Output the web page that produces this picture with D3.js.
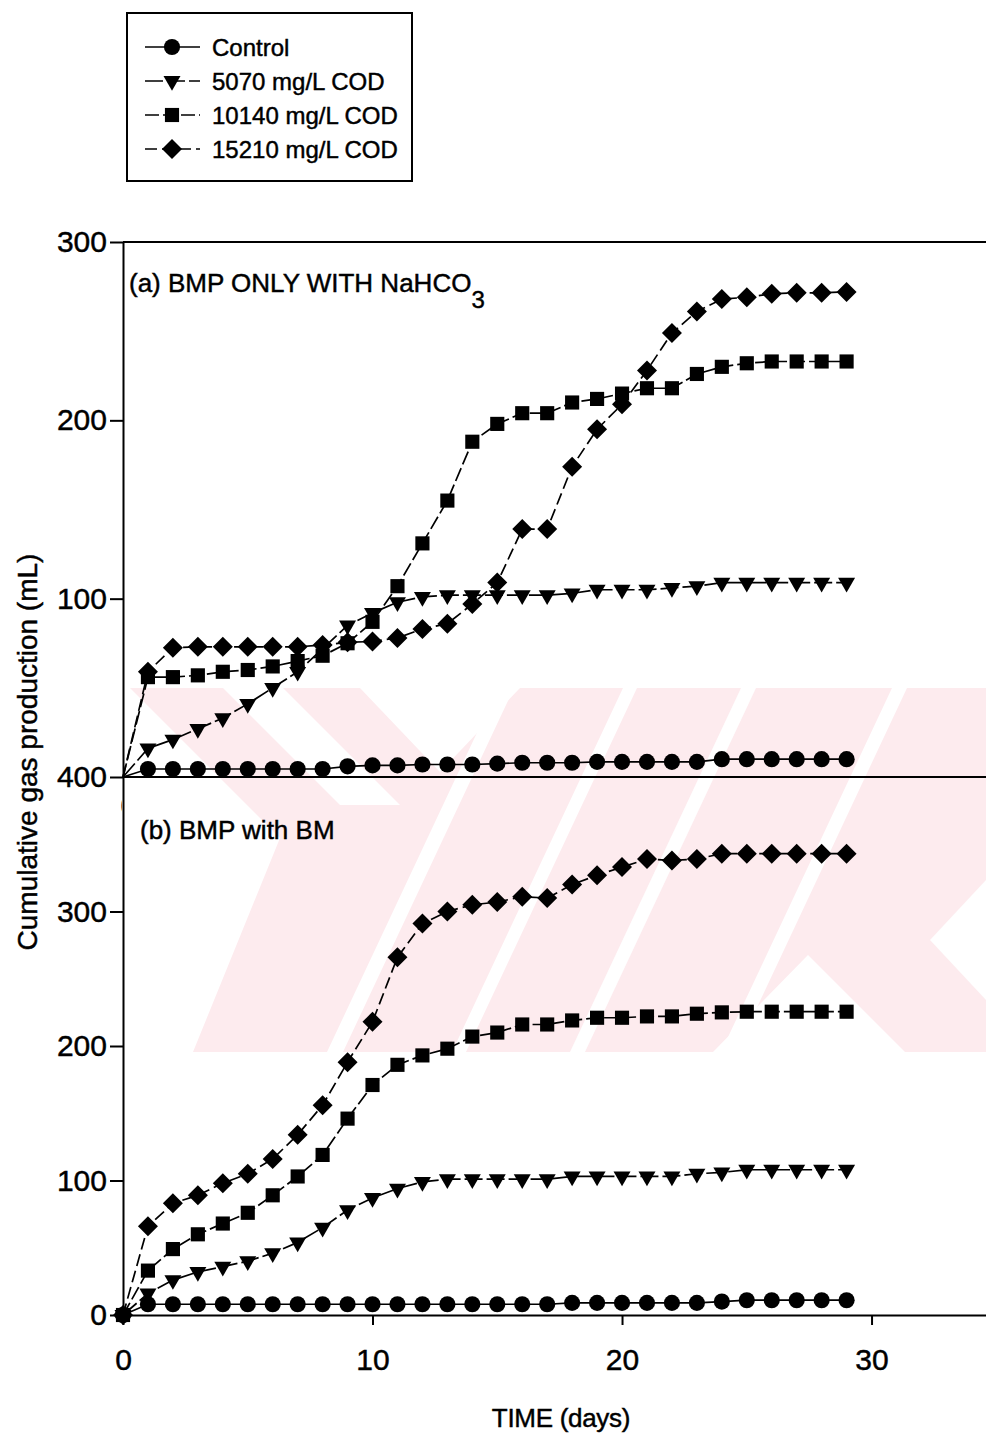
<!DOCTYPE html>
<html>
<head>
<meta charset="utf-8">
<script src="https://cdn.jsdelivr.net/npm/d3@7"></script>
<style>
  html, body { margin: 0; padding: 0; background: #fff; }
  svg { display: block; font-family: "Liberation Sans", Arial, sans-serif; }
  text { stroke: #000; stroke-width: 0.45px; fill: #000; }
</style>
</head>
<body>
<svg id="chart" width="986" height="1435"></svg>
<script>
// Sampling days
const days = [0,1,2,3,4,5,6,7,8,9,10,11,12,13,14,15,16,17,18,19,20,21,22,23,24,25,26,27,28,29];

// Series names (legend order)
const seriesNames = ["Control", "5070 mg/L COD", "10140 mg/L COD", "15210 mg/L COD"];

// (a) BMP only with NaHCO3 — cumulative gas (mL)
const controlA = [0,4.5,4.5,4.5,4.5,4.5,4.5,4.5,4.5,6,6.5,6.5,7,7,7,7.5,8,8,8,8.5,8.5,8.5,8.5,8.5,10,10,10,10,10,10];
const cod5070A = [0,16,21,27,33,41,50,59,72,85,92,98,101,102,102,102,102,102,103,105,105,105,106,107,109,109,109,109,109,109];
const cod10140A = [0,56,56,57,59,60,62,65,68,75,87,107,131,155,188,198,204,204,210,212,215,218,218,226,230,232,233,233,233,233];
const cod15210A = [0,59,72.5,73,73,73,73,73,74,75.5,76,78,83,86,97,109,139,139,174,195,209,228,249,261,268,269,271,271.5,271.5,272];

// (b) BMP with BM — cumulative gas (mL)
const controlB = [0,8,8,8,8,8,8,8,8,8,8,8,8,8,8,8,8,8,9,9,9,9,9,9,10,11,11,11,11,11];
const cod5070B = [0,16,26,32,36,40,46,54,65,78,87,94,99,101,101,101,101,101,103,103,103,103,103,105,106,108,108,108,108,108];
const cod10140B = [0,33,49,60,68,76,89,103,119,146,171,186,193,198,207,210,216,216,219,221,221,222,222,224,225,225.5,225.5,225.5,225.5,225.5];
const cod15210B = [0,66,83,89,98,105,116,134,156,188,218,266,291,300,305,307,311,310,320,327,333,339,338,339,343,343,343,343,343,343];

// Axis ticks
const xTicks = [0, 10, 20, 30];
const yTicksA = [100, 200, 300];
const yTicksB = [0, 100, 200, 300, 400];

const svg = d3.select("#chart");
const W = 986;

// Scales
const x = d3.scaleLinear().domain([0, 35]).range([123, 996.3]);
const yA = d3.scaleLinear().domain([0, 300]).range([777, 242]);
const yB = d3.scaleLinear().domain([0, 400]).range([1315, 777]);

// Faint pink watermark in the background: a pale field cut by white notches and stripes
svg.append("clipPath").attr("id", "wmclip")
  .append("rect").attr("x", 120).attr("y", 688).attr("width", 866).attr("height", 364);
const wmg = svg.append("g").attr("clip-path", "url(#wmclip)");
const pinkField = [[130,688],[986,688],[986,1052],[193,1052],[280,838]];
wmg.append("polygon").attr("fill", "#fdebee")
  .attr("points", pinkField.map(p => p.join(",")).join(" "));
const cuts = [
  [[360,688],[520,688],[440,772]],                 // upper notch
  [[713,1052],[808,955],[905,1052]],               // lower notch
  [[986,880],[986,1000],[930,940]],                // right notch
  [[223,688],[283,688],[400,805],[340,805]],       // diagonal gap
  [[327,1052],[343,1052],[514,688],[498,688]],     // slanted stripes
  [[452,1052],[466,1052],[637,688],[623,688]],
  [[570,1052],[585,1052],[756,688],[741,688]],
  [[721,1052],[736,1052],[907,688],[892,688]]
];
wmg.selectAll("polygon.cut").data(cuts).join("polygon")
  .attr("class", "cut").attr("fill", "#fff")
  .attr("points", d => d.map(p => p.join(",")).join(" "));

// Series style definitions
const styles = [
  { dash: null,    sym: d3.symbolCircle,   size: 205, rot: 0 },
  { dash: "18,4",  sym: d3.symbolTriangle, size: 125, rot: 180 },
  { dash: "14,4",  sym: d3.symbolSquare,   size: 200, rot: 0 },
  { dash: "12,5",  sym: d3.symbolSquare,   size: 200, rot: 45 }
];

function drawPanel(yScale, series, markFrom) {
  const g = svg.append("g");
  series.forEach((vals, i) => {
    const pts = days.map((d, j) => ({ d, v: vals[j] }));
    const line = d3.line().x(p => x(p.d)).y(p => yScale(p.v));
    g.append("path")
      .attr("d", line(pts))
      .attr("fill", "none")
      .attr("stroke", "#000")
      .attr("stroke-width", 1.7)
      .attr("stroke-dasharray", styles[i].dash);
  });
  series.forEach((vals, i) => {
    const pts = days.map((d, j) => ({ d, v: vals[j] })).filter(p => p.d >= markFrom);
    const sym = d3.symbol().type(styles[i].sym).size(styles[i].size);
    g.selectAll(null).data(pts).join("path")
      .attr("d", sym)
      .attr("transform", p => `translate(${x(p.d)},${yScale(p.v)}) rotate(${styles[i].rot})`)
      .attr("fill", "#000");
  });
}

drawPanel(yA, [controlA, cod5070A, cod10140A, cod15210A], 1);
drawPanel(yB, [controlB, cod5070B, cod10140B, cod15210B], 0);

// Frame lines
svg.append("line").attr("x1", 123).attr("x2", W).attr("y1", 242).attr("y2", 242)
  .attr("stroke", "#000").attr("stroke-width", 2);
svg.append("line").attr("x1", 123).attr("x2", W).attr("y1", 777).attr("y2", 777)
  .attr("stroke", "#000").attr("stroke-width", 2);

// Partly hidden day-0 label of panel (a)
svg.append("clipPath").attr("id", "zclip")
  .append("rect").attr("x", 100).attr("y", 790).attr("width", 22).attr("height", 28);
svg.append("text").attr("clip-path", "url(#zclip)")
  .attr("x", 128).attr("y", 815).attr("text-anchor", "middle")
  .attr("font-size", 26).text("0");

function styleAxis(g) {
  g.selectAll("path.domain").attr("stroke-width", 2);
  g.selectAll(".tick line").attr("stroke-width", 2);
  g.selectAll(".tick text").attr("font-size", 30).attr("fill", "#000")
    .attr("font-family", "\"Liberation Sans\", Arial, sans-serif");
}

// Y axes
svg.append("g").attr("transform", "translate(123,0)")
  .call(d3.axisLeft(yA).tickValues(yTicksA).tickSize(13).tickSizeOuter(0).tickPadding(3))
  .call(styleAxis);
svg.append("g").attr("transform", "translate(123,0)")
  .call(d3.axisLeft(yB).tickValues(yTicksB).tickSize(13).tickSizeOuter(0).tickPadding(3))
  .call(styleAxis);

// X axis
svg.append("g").attr("transform", "translate(0,1315)")
  .call(d3.axisBottom(x).tickValues(xTicks).tickSize(10).tickSizeOuter(0).tickPadding(24))
  .call(styleAxis);

// Panel labels
const la = svg.append("text").attr("x", 129).attr("y", 292).attr("font-size", 26);
la.append("tspan").text("(a) BMP ONLY WITH NaHCO");
la.append("tspan").attr("dy", 16).attr("font-size", 24).text("3");

svg.append("text").attr("x", 140).attr("y", 839).attr("font-size", 26)
  .text("(b) BMP with BM");

// Axis titles
svg.append("text")
  .attr("transform", "translate(37,752) rotate(-90)")
  .attr("text-anchor", "middle").attr("font-size", 28)
  .text("Cumulative gas production (mL)");
svg.append("text")
  .attr("x", 561).attr("y", 1427).attr("text-anchor", "middle")
  .attr("font-size", 26).attr("letter-spacing", -0.3)
  .text("TIME (days)");

// Legend
const lg = svg.append("g");
lg.append("rect").attr("x", 127).attr("y", 13).attr("width", 285).attr("height", 168)
  .attr("fill", "#fff").attr("stroke", "#000").attr("stroke-width", 2);
seriesNames.forEach((name, i) => {
  const cy = 47 + i * 34;
  lg.append("line").attr("x1", 145).attr("x2", 200).attr("y1", cy).attr("y2", cy)
    .attr("stroke", "#000").attr("stroke-width", 1.7)
    .attr("stroke-dasharray", styles[i].dash);
  lg.append("path")
    .attr("d", d3.symbol().type(styles[i].sym).size(styles[i].size))
    .attr("transform", `translate(172,${cy}) rotate(${styles[i].rot})`)
    .attr("fill", "#000");
  lg.append("text").attr("x", 212).attr("y", cy).attr("dy", "0.36em")
    .attr("font-size", 24).text(name);
});
</script>
</body>
</html>
